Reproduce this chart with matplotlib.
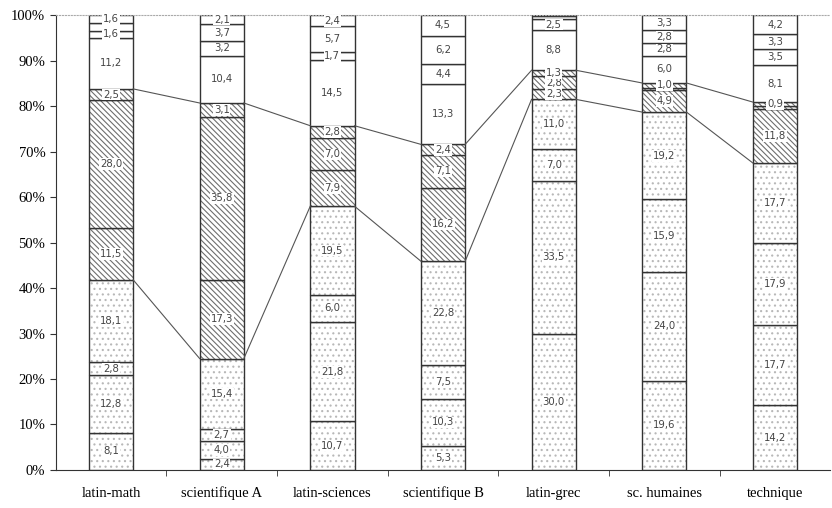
import numpy as np
import matplotlib
matplotlib.use("Agg")
import matplotlib.pyplot as plt

# categories (x axis)
cats = ['latin-math', 'scientifique A', 'latin-sciences', 'scientifique B',
        'latin-grec', 'sc. humaines', 'technique']

# dotted group (bottom 4 series)
s1 = [8.1, 2.4, 10.7, 5.3, 30.0, 19.6, 14.2]
s2 = [12.8, 4.0, 21.8, 10.3, 33.5, 24.0, 17.7]
s3 = [2.8, 2.7, 6.0, 7.5, 7.0, 15.9, 17.9]
s4 = [18.1, 15.4, 19.5, 22.8, 11.0, 19.2, 17.7]
# hatched group
s5 = [11.5, 17.3, 7.9, 16.2, 2.3, 4.9, 11.8]
s6 = [28.0, 35.8, 7.0, 7.1, 2.8, 0.5, 0.7]
s7 = [2.5, 3.1, 2.8, 2.4, 1.3, 1.0, 0.9]
# white group (top)
s8 = [11.2, 10.4, 14.5, 13.3, 8.8, 6.0, 8.1]
s9 = [1.6, 3.2, 1.7, 4.4, 2.5, 2.8, 3.5]
s10 = [1.8, 3.7, 5.7, 6.2, 0.6, 2.8, 3.3]
s11 = [1.6, 2.1, 2.4, 4.5, 0.2, 3.3, 4.2]

series = [s1, s2, s3, s4, s5, s6, s7, s8, s9, s10, s11]
kinds = ['dot'] * 4 + ['hatch'] * 3 + ['white'] * 4
# segments whose label is not shown in the original (series idx, category idx)
no_label = {(9, 0)}

plt.rcParams['hatch.linewidth'] = 0.8

fig = plt.figure(figsize=(8.32, 5.08), dpi=100)
ax = fig.add_axes([0.067, 0.075, 0.931, 0.895])

x = np.arange(len(cats))
w = 0.4
bottom = np.zeros(len(cats))
tops = []

for k, (vals, kind) in enumerate(zip(series, kinds)):
    vals = np.array(vals)
    if kind == 'dot':
        ax.bar(x, vals, w, bottom=bottom, color='white', hatch='...',
               edgecolor='#b8b8b8', linewidth=0)
    elif kind == 'hatch':
        ax.bar(x, vals, w, bottom=bottom, color='white', hatch='\\\\\\\\\\\\',
               edgecolor='#6e6e6e', linewidth=0)
    else:
        ax.bar(x, vals, w, bottom=bottom, color='white', linewidth=0)
    ax.bar(x, vals, w, bottom=bottom, color='none', edgecolor='#333333',
           linewidth=1.0)
    # segment labels
    for i, v in enumerate(vals):
        if v >= 0.8 and (k, i) not in no_label:
            ax.text(x[i], bottom[i] + v / 2, f"{v:.1f}".replace('.', ','),
                    ha='center', va='center', fontsize=7.3, color='#444444',
                    family='DejaVu Sans',
                    bbox=dict(boxstyle='square,pad=0.08', fc='white', ec='none'))
    bottom = bottom + vals
    tops.append(bottom.copy())

# series lines between groups
for cum in (tops[3], tops[6]):
    for i in range(len(cats) - 1):
        ax.plot([x[i] + w / 2, x[i + 1] - w / 2], [cum[i], cum[i + 1]],
                color='#555555', linewidth=0.8, zorder=1)

ax.set_xlim(-0.5, len(cats) - 0.5)
ax.set_ylim(0, 100)
ax.set_yticks(np.arange(0, 101, 10))
ax.set_yticklabels([f"{t}%" for t in range(0, 101, 10)],
                   family='Liberation Serif', fontsize=10.5)
ax.set_xticks(x)
ax.set_xticklabels(cats, family='Liberation Serif', fontsize=10.5)
ax.set_xticks(np.arange(0.5, len(cats) - 0.5, 1), minor=True)
ax.tick_params(axis='x', which='major', length=0, pad=12)
ax.tick_params(axis='x', which='minor', length=4, color='#333333')
ax.tick_params(axis='y', length=4, color='#333333')

ax.spines['right'].set_visible(False)
ax.spines['top'].set_linestyle(':')
ax.spines['top'].set_color('#aaaaaa')
ax.spines['left'].set_color('#333333')
ax.spines['bottom'].set_color('#333333')

fig.savefig('out.png', dpi=100)
